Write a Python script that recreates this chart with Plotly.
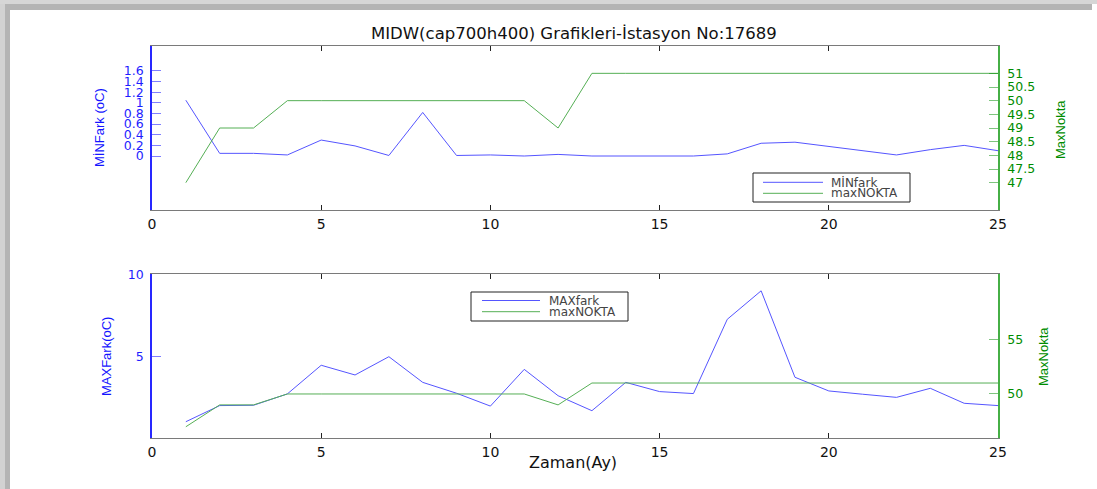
import plotly.graph_objects as go

# ---- data -------------------------------------------------------------
months = list(range(1, 26))

min_fark = [1.05, 0.05, 0.05, 0.02, 0.30, 0.19, 0.01, 0.82, 0.01, 0.02,
            0.00, 0.03, 0.00, 0.00, 0.00, 0.00, 0.04, 0.24, 0.26, 0.18,
            0.10, 0.02, 0.12, 0.20, 0.10]

max_fark = [1.05, 2.03, 2.05, 2.74, 4.48, 3.89, 5.00, 3.44, 2.78, 2.00,
            4.23, 2.63, 1.72, 3.44, 2.88, 2.76, 7.27, 9.00, 3.75, 2.92,
            2.72, 2.53, 3.08, 2.17, 2.03]

max_nokta = [47, 49, 49, 50, 50, 50, 50, 50, 50, 50,
             50, 49, 51, 51, 51, 51, 51, 51, 51, 51,
             51, 51, 51, 51, 51]

x_ticks = [0, 5, 10, 15, 20, 25]
min_ticks = [0, 0.2, 0.4, 0.6, 0.8, 1, 1.2, 1.4, 1.6]
min_tick_text = ["0", "0.2", "0.4", "0.6", "0.8", "1", "1.2", "1.4", "1.6"]
nokta_ticks_top = [47, 47.5, 48, 48.5, 49, 49.5, 50, 50.5, 51]
nokta_text_top = ["47", "47.5", "48", "48.5", "49", "49.5", "50", "50.5", "51"]
max_ticks = [5, 10]
nokta_ticks_bottom = [50, 55]

# ---- page geometry (pixels -> paper fractions) ------------------------
W, H = 1097, 489


def px(x):
    return x / W


def py(y):
    return 1 - y / H


X_DOM = [px(152), px(998)]
TOP_DOM = [py(210), py(46)]
BOT_DOM = [py(437.7), py(273.7)]

BLUE = "rgb(85,85,255)"
GREEN = "rgb(85,175,85)"
BLUE_TICK = "rgba(0,0,255,0.5)"
GREEN_TICK = "rgba(0,140,0,0.5)"
AXIS_GRAY = "#7a7a7a"
YTICK_FONT = dict(family="DejaVu Sans", size=12.5)
XTICK_FONT = dict(family="DejaVu Sans", size=14)
LABEL_FONT = "Liberation Sans, Arial, sans-serif"

fig = go.Figure()

# top panel
fig.add_trace(go.Scatter(x=months, y=min_fark, mode="lines", name="MİNfark",
                         line=dict(color=BLUE, width=1), xaxis="x", yaxis="y"))
fig.add_trace(go.Scatter(x=months, y=max_nokta, mode="lines", name="maxNOKTA",
                         line=dict(color=GREEN, width=1), xaxis="x", yaxis="y2"))
# bottom panel
fig.add_trace(go.Scatter(x=months, y=max_fark, mode="lines", name="MAXfark",
                         line=dict(color=BLUE, width=1), xaxis="x2", yaxis="y3"))
fig.add_trace(go.Scatter(x=months, y=max_nokta, mode="lines", name="maxNOKTA",
                         line=dict(color=GREEN, width=1), xaxis="x2", yaxis="y4"))

xcommon = dict(domain=X_DOM, range=[0, 25], tickvals=x_ticks,
               ticks="inside", ticklen=5, tickcolor="#222",
               showline=True, linecolor=AXIS_GRAY, linewidth=1, mirror="ticks",
               showgrid=False, zeroline=False, automargin=False,
               tickfont=dict(color="#111", **XTICK_FONT), ticklabelstandoff=1)


def left_axis(dom, rng, vals, text, anchor):
    return dict(domain=dom, anchor=anchor, range=rng, tickvals=vals, ticktext=text,
                ticks="inside", ticklen=9, tickcolor=BLUE_TICK,
                showline=True, linecolor="rgb(40,40,255)", linewidth=1.5,
                showgrid=False, zeroline=False, ticklabelstandoff=4, automargin=False,
                tickfont=dict(color="rgb(30,30,255)", **YTICK_FONT))


def right_axis(over, rng, vals, text, anchor):
    return dict(overlaying=over, side="right", anchor=anchor, range=rng,
                tickvals=vals, ticktext=text, ticks="inside", ticklen=9,
                tickcolor=GREEN_TICK, showline=True, linecolor="rgb(70,175,70)",
                linewidth=1.5, showgrid=False, zeroline=False, ticklabelstandoff=5,
                automargin=False, tickfont=dict(color="rgb(0,140,0)", **YTICK_FONT))


def mirror_axis(over, rng, vals, anchor):
    return dict(overlaying=over, side="right", anchor=anchor, range=rng,
                tickvals=vals, ticks="inside", ticklen=9, tickcolor=BLUE_TICK,
                showticklabels=False, showline=False, showgrid=False, zeroline=False)


TOP_RANGE = [-1.016, 2.07]
BOT_RANGE = [0.08, 10.04]

fig.update_layout(
    width=W, height=H, autosize=False,
    margin=dict(l=0, r=0, t=0, b=0),
    paper_bgcolor="white", plot_bgcolor="white",
    showlegend=False,
    xaxis=dict(anchor="y", **xcommon),
    xaxis2=dict(anchor="y3", **xcommon),
    yaxis=left_axis(TOP_DOM, TOP_RANGE, min_ticks, min_tick_text, "x"),
    yaxis2=right_axis("y", [46, 52], nokta_ticks_top, nokta_text_top, "x"),
    yaxis5=mirror_axis("y", TOP_RANGE, min_ticks, "x"),
    yaxis3=left_axis(BOT_DOM, BOT_RANGE, max_ticks, ["5", "10"], "x2"),
    yaxis4=right_axis("y3", [46, 61], nokta_ticks_bottom, ["50", "55"], "x2"),
    yaxis6=mirror_axis("y3", BOT_RANGE, max_ticks, "x2"),
)

annotations = [
    dict(text="MIDW(cap700h400) Grafikleri-İstasyon No:17689", x=px(574), y=py(33),
         font=dict(family="DejaVu Sans", size=16.5, color="#111")),
    dict(text="Zaman(Ay)", x=px(573), y=py(462),
         font=dict(family="DejaVu Sans", size=16, color="#111")),
    dict(text="MİNFark (oC)", x=px(100), y=py(128), textangle=-90,
         font=dict(family=LABEL_FONT, size=13, color="rgb(20,20,255)")),
    dict(text="MaxNokta", x=px(1060), y=py(130), textangle=-90,
         font=dict(family=LABEL_FONT, size=13, color="rgb(0,140,0)")),
    dict(text="MAXFark(oC)", x=px(106), y=py(357), textangle=-90,
         font=dict(family=LABEL_FONT, size=13, color="rgb(20,20,255)")),
    dict(text="MaxNokta", x=px(1043), y=py(357), textangle=-90,
         font=dict(family=LABEL_FONT, size=13, color="rgb(0,140,0)")),
]
for a in annotations:
    a.update(xref="paper", yref="paper", xanchor="center", yanchor="middle",
             showarrow=False)

shapes = []


def legend_box(x0, y0, x1, y1, lx0, lx1, tx, rows):
    shapes.append(dict(type="rect", xref="paper", yref="paper",
                       x0=px(x0), x1=px(x1), y0=py(y1), y1=py(y0),
                       line=dict(color="#222", width=1), fillcolor="white"))
    for label, color, yy in rows:
        shapes.append(dict(type="line", xref="paper", yref="paper",
                           x0=px(lx0), x1=px(lx1), y0=py(yy), y1=py(yy),
                           line=dict(color=color, width=1)))
        annotations.append(dict(text=label, x=px(tx), y=py(yy), xref="paper",
                                yref="paper", xanchor="left", yanchor="middle",
                                showarrow=False,
                                font=dict(family="DejaVu Sans", size=12,
                                          color="#444")))


legend_box(753, 173, 910, 202, 763, 823, 829,
           [("MİNfark", BLUE, 182.3), ("maxNOKTA", GREEN, 193.3)])
legend_box(471, 292, 628, 321, 482, 540, 547,
           [("MAXfark", BLUE, 300.5), ("maxNOKTA", GREEN, 311.7)])

# window frame shading along top and left edges
frame = [
    (0, 0, 1097, 4, "#d6d6d6"),
    (5, 4, 1092, 10, "#b4b4b4"),
    (0, 4, 5, 489, "#d2d2d2"),
    (5, 10, 10, 489, "#b4b4b4"),
]
for x0, y0, x1, y1, c in frame:
    shapes.append(dict(type="rect", xref="paper", yref="paper",
                       x0=px(x0), x1=px(x1), y0=py(y1), y1=py(y0),
                       line=dict(width=0), fillcolor=c, layer="below"))

fig.update_layout(annotations=annotations, shapes=shapes)

# the figure fills the page edge to edge
fig.write_html(
    "out.html",
    post_script="document.body.style.margin='0';"
                "document.documentElement.style.overflow='hidden';",
)
